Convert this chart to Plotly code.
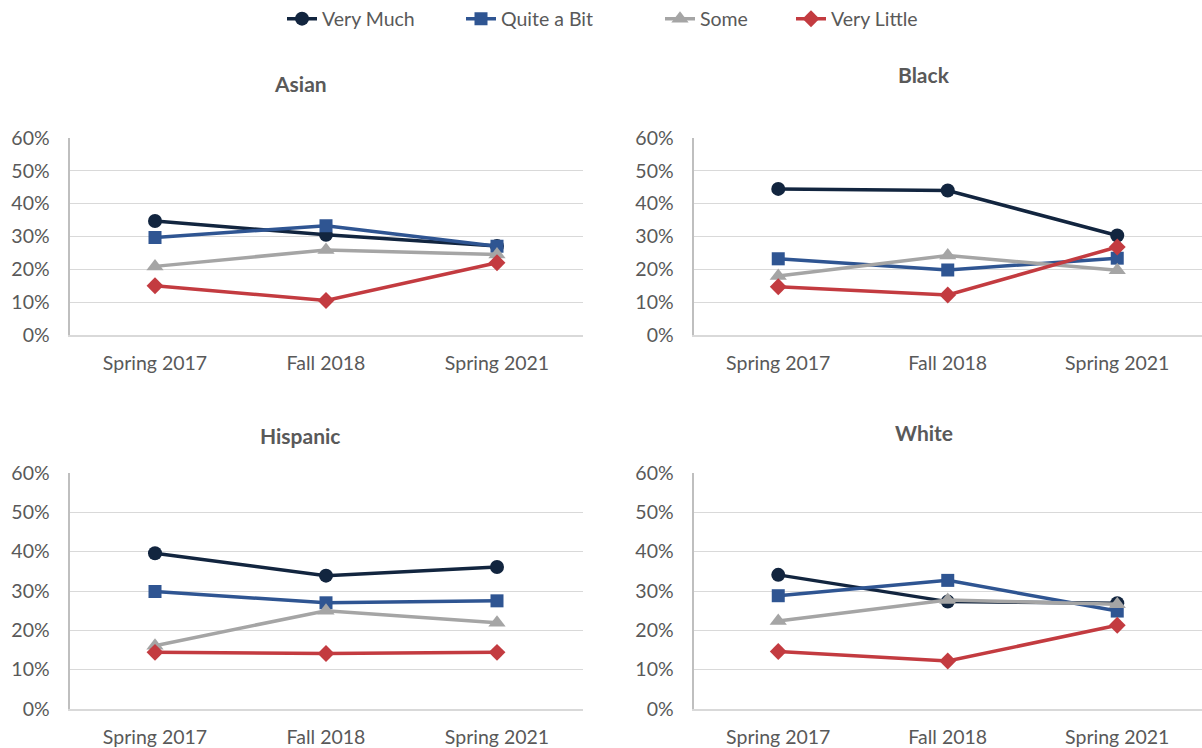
import plotly.graph_objects as go

categories = ["Spring 2017", "Fall 2018", "Spring 2021"]
series_names = ["Very Much", "Quite a Bit", "Some", "Very Little"]

asian_very_much = [0.347, 0.305, 0.271]
asian_quite_bit = [0.297, 0.333, 0.270]
asian_some = [0.209, 0.259, 0.245]
asian_very_little = [0.150, 0.105, 0.220]

black_very_much = [0.445, 0.440, 0.303]
black_quite_bit = [0.232, 0.198, 0.234]
black_some = [0.180, 0.242, 0.197]
black_very_little = [0.147, 0.122, 0.268]

hispanic_very_much = [0.396, 0.339, 0.361]
hispanic_quite_bit = [0.299, 0.270, 0.275]
hispanic_some = [0.161, 0.250, 0.219]
hispanic_very_little = [0.144, 0.141, 0.144]

white_very_much = [0.341, 0.273, 0.269]
white_quite_bit = [0.288, 0.327, 0.249]
white_some = [0.224, 0.277, 0.266]
white_very_little = [0.146, 0.122, 0.213]

y_ticks = [0, 0.1, 0.2, 0.3, 0.4, 0.5, 0.6]
y_tick_labels = ["0%", "10%", "20%", "30%", "40%", "50%", "60%"]

panels = [
    ("Asian", [asian_very_much, asian_quite_bit, asian_some, asian_very_little]),
    ("Black", [black_very_much, black_quite_bit, black_some, black_very_little]),
    ("Hispanic", [hispanic_very_much, hispanic_quite_bit, hispanic_some, hispanic_very_little]),
    ("White", [white_very_much, white_quite_bit, white_some, white_very_little]),
]

colors = ["#12253F", "#2F5592", "#A5A5A5", "#C33B40"]
symbols = ["circle", "square", "triangle-up", "diamond"]
msizes = [14, 13, 15, 13]

W, H = 1202, 748


def fx(px):
    return px / W


def fy(py):
    return (H - py) / H


x_domains = [[fx(69.5), fx(582.5)], [fx(693.5), 1.0]]
y_domains = [[fy(335), fy(138)], [fy(709), fy(473)]]

fig = go.Figure()
font_fam = "Lato, 'Open Sans', sans-serif"
text_col = "#595959"
legend_ids = ["legend", "legend2", "legend3", "legend4"]
legend_x = [282, 461, 660, 791]

for i, (title, data) in enumerate(panels):
    row, col = divmod(i, 2)
    xa = "x" if i == 0 else f"x{i+1}"
    ya = "y" if i == 0 else f"y{i+1}"
    for j, name in enumerate(series_names):
        fig.add_trace(go.Scatter(
            x=categories, y=data[j], name=name, mode="lines+markers",
            line=dict(color=colors[j], width=3.5),
            marker=dict(symbol=symbols[j], size=msizes[j], color=colors[j]),
            xaxis=xa, yaxis=ya, showlegend=(i == 0), legendgroup=name,
            legend=legend_ids[j],
        ))
    xkey = "xaxis" if i == 0 else f"xaxis{i+1}"
    ykey = "yaxis" if i == 0 else f"yaxis{i+1}"
    fig.layout[xkey] = dict(
        domain=x_domains[col], anchor=ya, type="category",
        range=[-0.5, 2.5], showgrid=False, showline=True,
        linecolor="#D9D9D9", linewidth=1.5, ticks="",
        tickfont=dict(size=19.5, color=text_col, family=font_fam),
        ticklabelstandoff=10, zeroline=False,
    )
    fig.layout[ykey] = dict(
        domain=y_domains[row], anchor=xa, range=[0, 0.6],
        tickvals=y_ticks, ticktext=y_tick_labels,
        showgrid=True, gridcolor="#D9D9D9", gridwidth=1,
        showline=True, linecolor="#BFBFBF", linewidth=2,
        zeroline=False, ticks="",
        tickfont=dict(size=19.5, color=text_col, family=font_fam),
        ticklabelstandoff=14,
    )

title_pos = [(300, 83), (924, 75), (300, 435), (924, 432)]
for (title, _), (px, py) in zip(panels, title_pos):
    fig.add_annotation(
        text=f"<b>{title}</b>", x=fx(px), y=fy(py), xref="paper", yref="paper",
        showarrow=False, xanchor="center", yanchor="middle",
        font=dict(size=21, color=text_col, family=font_fam),
    )

for lid, lx in zip(legend_ids, legend_x):
    fig.layout[lid] = dict(
        orientation="h", x=fx(lx), xanchor="left", y=fy(19), yanchor="middle",
        font=dict(size=19.5, color=text_col, family=font_fam),
        itemwidth=30, bgcolor="rgba(0,0,0,0)",
    )

fig.update_layout(
    width=W, height=H,
    margin=dict(l=0, r=0, t=0, b=0, autoexpand=False),
    paper_bgcolor="white", plot_bgcolor="white",
)

fig.write_html("out.html", config={"displayModeBar": False},
               post_script="document.body.style.margin='0px';")
